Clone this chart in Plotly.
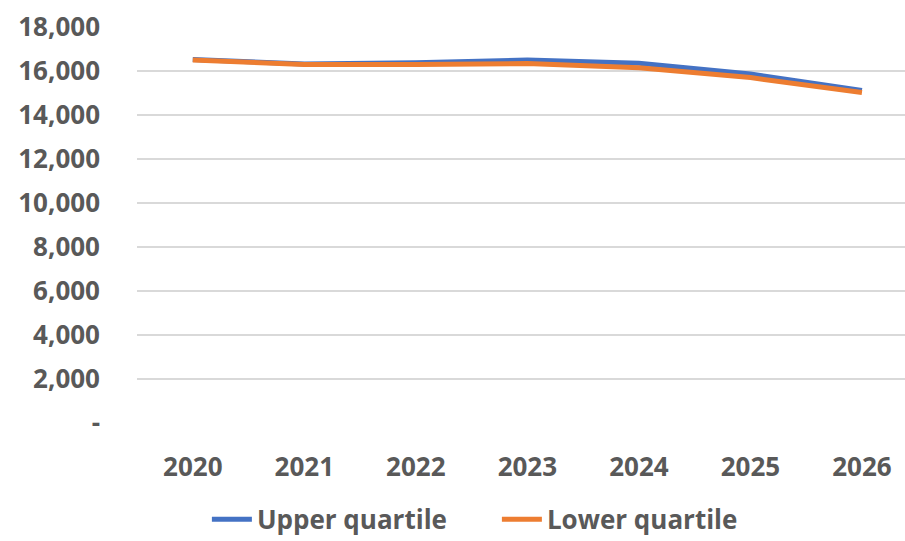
import plotly.graph_objects as go

years = ["2020", "2021", "2022", "2023", "2024", "2025", "2026"]
upper_quartile = [16520, 16320, 16380, 16500, 16350, 15860, 15120]
lower_quartile = [16500, 16300, 16300, 16340, 16150, 15700, 15020]

y_ticks = [0, 2000, 4000, 6000, 8000, 10000, 12000, 14000, 16000, 18000]
y_tick_text = ["-"] + [f"{v:,}" for v in y_ticks[1:]]

text_color = "#595959"
font_family = "'Open Sans', Lato, sans-serif"

fig = go.Figure()
fig.add_trace(go.Scatter(
    x=years, y=upper_quartile, mode="lines", name="Upper quartile",
    line=dict(color="#4472C4", width=5),
))
fig.add_trace(go.Scatter(
    x=years, y=lower_quartile, mode="lines", name="Lower quartile",
    line=dict(color="#ED7D31", width=5),
))

fig.update_layout(
    width=905, height=541,
    margin=dict(l=137, r=0, t=27, b=118),
    plot_bgcolor="white", paper_bgcolor="white",
    font=dict(family=font_family, size=26, color=text_color, weight="bold"),
    showlegend=True,
    legend=dict(
        orientation="h", x=0.091, xanchor="left",
        yref="container", y=0.04, yanchor="middle",
        font=dict(size=26, color=text_color, weight="bold"),
        itemwidth=40, tracegroupgap=0,
        entrywidth=235, entrywidthmode="pixels",
    ),
)
fig.update_xaxes(
    type="category", range=[-0.5, 6.386],
    showgrid=False, showline=False, zeroline=False,
    ticks="", ticklabelstandoff=26,
)
fig.update_yaxes(
    range=[0, 18000], tickvals=y_ticks, ticktext=y_tick_text,
    showgrid=True, gridcolor="#D9D9D9", gridwidth=1.5,
    zeroline=False, showline=False, ticks="", ticklabelstandoff=36,
)

fig.write_html("out.html")
